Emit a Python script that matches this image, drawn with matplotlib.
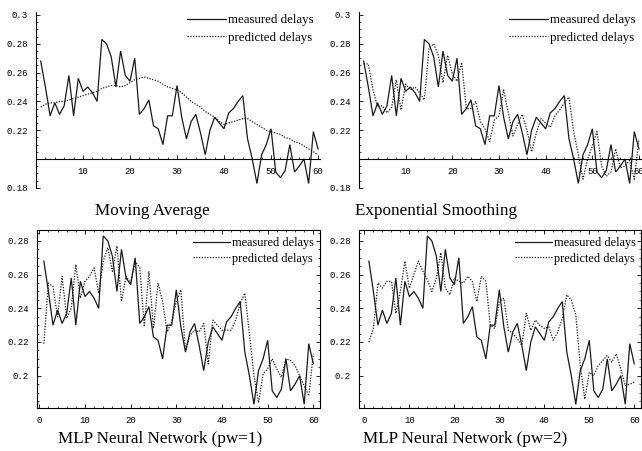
import matplotlib
matplotlib.use("Agg")
import matplotlib.pyplot as plt
from matplotlib.ticker import MultipleLocator, FixedLocator, FixedFormatter

# ---------------- data ----------------
t = list(range(1, 61))

measured = [0.268, 0.250, 0.230, 0.239, 0.231, 0.237, 0.258, 0.230, 0.256, 0.247,
            0.250, 0.246, 0.240, 0.283, 0.280, 0.271, 0.250, 0.275, 0.258, 0.254,
            0.270, 0.231, 0.235, 0.241, 0.223, 0.221, 0.210, 0.230, 0.230, 0.251,
            0.229, 0.214, 0.226, 0.231, 0.218, 0.203, 0.220, 0.229, 0.225, 0.221,
            0.232, 0.235, 0.240, 0.244, 0.214, 0.200, 0.183, 0.203, 0.210, 0.221,
            0.191, 0.187, 0.192, 0.210, 0.191, 0.195, 0.200, 0.183, 0.219, 0.207]

pred_moving_avg = [0.236, 0.238, 0.239, 0.239, 0.240, 0.240, 0.241, 0.242, 0.243, 0.244,
                   0.245, 0.246, 0.247, 0.249, 0.250, 0.251, 0.251, 0.250, 0.251, 0.253,
                   0.255, 0.256, 0.257, 0.256, 0.255, 0.254, 0.252, 0.250, 0.249, 0.248,
                   0.246, 0.243, 0.240, 0.238, 0.236, 0.233, 0.231, 0.229, 0.226, 0.224,
                   0.225, 0.226, 0.227, 0.228, 0.228, 0.226, 0.224, 0.222, 0.220, 0.219,
                   0.218, 0.217, 0.215, 0.214, 0.212, 0.211, 0.209, 0.207, 0.205, 0.203]

pred_exp_smooth = [0.266, 0.266, 0.248, 0.236, 0.237, 0.232, 0.236, 0.255, 0.234, 0.252,
                   0.248, 0.250, 0.246, 0.241, 0.277, 0.280, 0.272, 0.253, 0.272, 0.259,
                   0.254, 0.267, 0.235, 0.235, 0.240, 0.226, 0.221, 0.212, 0.227, 0.230,
                   0.248, 0.232, 0.216, 0.224, 0.231, 0.220, 0.205, 0.218, 0.228, 0.225,
                   0.222, 0.230, 0.234, 0.239, 0.243, 0.219, 0.203, 0.186, 0.200, 0.209,
                   0.219, 0.195, 0.188, 0.191, 0.207, 0.194, 0.195, 0.199, 0.186, 0.214]

pred_mlp_pw1 = [0.219, 0.255, 0.253, 0.235, 0.259, 0.234, 0.240, 0.266, 0.246, 0.256,
                0.259, 0.264, 0.249, 0.268, 0.276, 0.262, 0.277, 0.244, 0.259, 0.255,
                0.268, 0.264, 0.229, 0.262, 0.228, 0.255, 0.244, 0.226, 0.232, 0.244,
                0.251, 0.215, 0.224, 0.227, 0.226, 0.231, 0.207, 0.233, 0.230, 0.227,
                0.227, 0.227, 0.233, 0.243, 0.249, 0.225, 0.200, 0.184, 0.201, 0.204,
                0.210, 0.204, 0.199, 0.210, 0.209, 0.206, 0.200, 0.194, 0.188, 0.213]

pred_mlp_pw2 = [0.220, 0.228, 0.255, 0.252, 0.256, 0.256, 0.237, 0.250, 0.268, 0.252,
                0.260, 0.268, 0.262, 0.257, 0.250, 0.258, 0.273, 0.252, 0.248, 0.258,
                0.256, 0.255, 0.259, 0.256, 0.244, 0.259, 0.256, 0.230, 0.228, 0.244,
                0.246, 0.227, 0.225, 0.222, 0.218, 0.237, 0.227, 0.233, 0.230, 0.228,
                0.229, 0.221, 0.226, 0.234, 0.248, 0.245, 0.236, 0.206, 0.186, 0.202,
                0.200, 0.206, 0.209, 0.212, 0.208, 0.213, 0.204, 0.194, 0.195, 0.196]

titles = ["Moving Average", "Exponential Smoothing",
          "MLP Neural Network (pw=1)", "MLP Neural Network (pw=2)"]
series_labels = ["measured delays", "predicted delays"]

top_yticks = [0.18, 0.22, 0.24, 0.26, 0.28, 0.3]
top_ytick_labels = ["0.18", "0.22", "0.24", "0.26", "0.28", "0.3"]
top_xticks = [10, 20, 30, 40, 50, 60]
bot_yticks = [0.2, 0.22, 0.24, 0.26, 0.28]
bot_ytick_labels = ["0.2", "0.22", "0.24", "0.26", "0.28"]
bot_xticks = [0, 10, 20, 30, 40, 50, 60]

# ---------------- layout ----------------
W, H = 642, 451
fig = plt.figure(figsize=(W / 100, H / 100), dpi=100)

def px_axes(left, top, right, bottom):
    return fig.add_axes([left / W, 1 - bottom / H, (right - left) / W, (bottom - top) / H])

TICKFONT = dict(family="Liberation Mono", size=6.5)
SERIF = "Liberation Serif"
MEAS_KW = dict(color="#1a1a1a", lw=0.9, solid_joinstyle="miter")
PRED_KW = dict(color="#1a1a1a", lw=0.9, linestyle=(0, (1, 1.2)))


def add_legend(ax, anchor_px, fs, spacing):
    h1, = ax.plot([], [], **MEAS_KW)
    h2, = ax.plot([], [], **PRED_KW)
    ax.legend([h1, h2], series_labels, loc="upper right",
              bbox_to_anchor=(anchor_px[0] / W, 1 - anchor_px[1] / H),
              bbox_transform=fig.transFigure, frameon=False, borderpad=0,
              borderaxespad=0, handlelength=3.0, handletextpad=0.2,
              labelspacing=spacing, prop=dict(family=SERIF, size=fs))


def style_top(ax):
    ax.set_xlim(0, 60.5)
    ax.set_ylim(0.18, 0.302)
    for s in ("top", "right"):
        ax.spines[s].set_visible(False)
    ax.spines["bottom"].set_position(("data", 0.2))
    ax.spines["left"].set_position(("data", 0))
    for s in ("bottom", "left"):
        ax.spines[s].set_linewidth(0.8)
    ax.yaxis.set_major_locator(FixedLocator(top_yticks))
    ax.yaxis.set_major_formatter(FixedFormatter(top_ytick_labels))
    ax.yaxis.set_minor_locator(MultipleLocator(0.005))
    ax.xaxis.set_major_locator(FixedLocator(top_xticks))
    ax.xaxis.set_minor_locator(MultipleLocator(2))
    ax.tick_params(which="major", direction="in", length=3, width=0.6, pad=6)
    ax.tick_params(which="minor", direction="in", length=1.5, width=0.5)
    for lab in ax.get_xticklabels() + ax.get_yticklabels():
        lab.set_fontproperties(TICKFONT)
    ax.patch.set_visible(False)


def style_bottom(ax, xlim):
    ax.set_xlim(*xlim)
    ax.set_ylim(0.1808, 0.2865)
    for s in ax.spines.values():
        s.set_linewidth(0.8)
    ax.yaxis.set_major_locator(FixedLocator(bot_yticks))
    ax.yaxis.set_major_formatter(FixedFormatter(bot_ytick_labels))
    ax.yaxis.set_minor_locator(MultipleLocator(0.005))
    ax.xaxis.set_major_locator(FixedLocator(bot_xticks))
    ax.xaxis.set_minor_locator(MultipleLocator(2))
    ax.tick_params(which="both", direction="in", top=True, right=True)
    ax.tick_params(which="major", length=3, width=0.6, pad=6)
    ax.tick_params(which="minor", length=1.5, width=0.5)
    for lab in ax.get_xticklabels() + ax.get_yticklabels():
        lab.set_fontproperties(TICKFONT)


# top-left: moving average
ax1 = px_axes(36, 12.1, 320.4, 187.8)
ax1.plot(t, measured, **MEAS_KW)
ax1.plot(t, pred_moving_avg, **PRED_KW)
style_top(ax1)
add_legend(ax1, (314, 14), 9.3, 0.42)

# top-right: exponential smoothing
ax2 = px_axes(359, 12.1, 641.3, 187.8)
ax2.plot(t, measured, **MEAS_KW)
ax2.plot(t, pred_exp_smooth, **PRED_KW)
style_top(ax2)
add_legend(ax2, (636, 14), 9.3, 0.42)

# bottom-left: MLP pw=1
ax3 = px_axes(37, 230, 320, 408)
ax3.plot(t, measured, **MEAS_KW)
ax3.plot(t, pred_mlp_pw1, **PRED_KW)
style_bottom(ax3, (-0.5, 61.46))
add_legend(ax3, (314, 237), 8.8, 0.3)

# bottom-right: MLP pw=2
ax4 = px_axes(359, 230, 641, 408)
ax4.plot(t, measured, **MEAS_KW)
ax4.plot(t, pred_mlp_pw2, **PRED_KW)
style_bottom(ax4, (-1.2, 61.5))
add_legend(ax4, (636, 237), 8.8, 0.3)

# captions
fig.text(152 / W, 1 - 211 / H, titles[0], ha="center", va="center", family=SERIF, size=12.3)
fig.text(436 / W, 1 - 211 / H, titles[1], ha="center", va="center", family=SERIF, size=12.3)
fig.text(160 / W, 1 - 439 / H, titles[2], ha="center", va="center", family=SERIF, size=12.3)
fig.text(465 / W, 1 - 439 / H, titles[3], ha="center", va="center", family=SERIF, size=12.3)

fig.savefig("out.png", dpi=100)
